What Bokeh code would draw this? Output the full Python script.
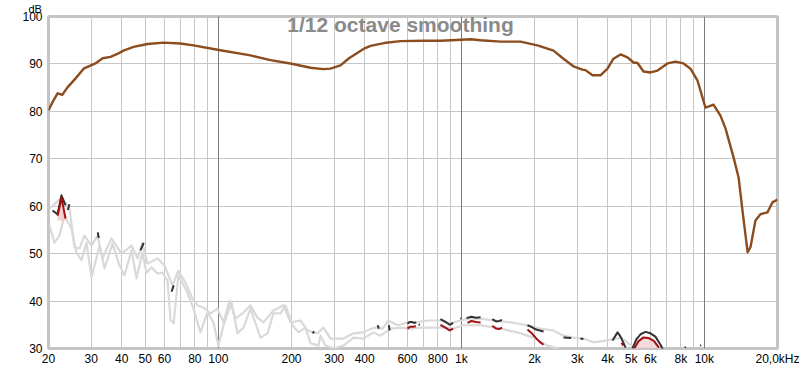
import math
from bokeh.plotting import figure
from bokeh.models import FixedTicker, Grid, Label, Title
from bokeh.embed import file_html
from bokeh.resources import INLINE

nan = float("nan")

# ---------------- data ----------------
main_freq = [20, 20.8, 21.8, 22.8, 23.9, 25.8, 27.9, 31.2, 33.4, 36.0,
             38.4, 40.7, 44.8, 51.1, 59.5, 69.8, 79.0, 99.2, 135.6, 163.9,
             198, 239.5, 270, 289.5, 318, 345, 400, 423, 480, 562,
             700, 820, 1000, 1091, 1200, 1449, 1751, 2057, 2395, 2631,
             2891, 3150, 3243, 3465, 3738, 3994, 4228, 4519, 4828, 5111,
             5309, 5619, 6003, 6415, 7053, 7607, 8208, 8770, 9374, 9826,
             10108, 10904, 11648, 12218, 13190, 13840, 14356, 15070, 15490, 16230,
             17010, 18180, 19060, 20000]
main_db = [80.2, 82.0, 83.8, 83.5, 85.0, 86.9, 89.0, 90.1, 91.2, 91.5,
           92.1, 92.8, 93.6, 94.2, 94.5, 94.3, 93.9, 93.0, 91.8, 90.8,
           90.1, 89.2, 88.9, 89.0, 89.7, 91.2, 93.3, 93.8, 94.4, 94.8,
           94.9, 94.9, 95.1, 95.2, 95.0, 94.7, 94.7, 93.9, 92.8, 91.1,
           89.5, 88.8, 88.7, 87.6, 87.6, 89.0, 91.1, 92.0, 91.4, 90.3,
           90.2, 88.4, 88.2, 88.6, 90.1, 90.5, 90.1, 89.0, 86.5, 82.9,
           80.8, 81.4, 79.1, 76.4, 70.3, 66.0, 59.0, 50.3, 51.4, 57.0,
           58.3, 58.7, 60.8, 61.4]

gray_a_freq = [20.19, 22.62, 24.41, 25.58, 26.83, 28.12, 30.06, 31.83, 33.37, 36.3,
               39.94, 43.9, 46.5, 48.7, 51.1, 56.2, 59.97, 64.8, 68.5, 73.2,
               78.3, 82.1, 86.9, 92.8, 99.2, 105, 111.2, 117.7, 125.7, 135.6,
               144.9, 153.4, 168.6, 185.4, 198.1, 217.9, 232.8, 255.9, 270.9, 289.5,
               327.3, 359.9, 395.6, 434.9, 474.2, 501.4, 546.2, 599.8, 660, 725.7,
               820.7, 902.3, 992, 1069, 1199, 1356, 1593, 1871, 2117, 2395,
               2631, 2891, 3181, 3497, 3990, 4519, 4900, 5500]
gray_a_db = [59.5, 61.8, 59.5, 51.3, 51.1, 53.8, 51.7, 53.8, 49.0, 53.2,
             50.0, 51.7, 49.0, 52.1, 47.9, 49.0, 47.5, 43.3, 46.4, 43.9,
             40.5, 39.1, 38.6, 37.4, 38.4, 35.5, 40.1, 36.3, 37.4, 39.1,
             36.5, 35.5, 38.0, 39.1, 35.5, 35.9, 33.8, 33.2, 34.4, 32.1,
             32.1, 33.2, 33.4, 34.4, 34.2, 35.9, 34.9, 35.5, 35.5, 35.9,
             35.9, 35.3, 35.9, 36.3, 36.3, 35.9, 35.5, 34.9, 34.2, 33.8,
             32.7, 32.3, 32.1, 31.3, 31.7, 32.3, 31.0, 29.0]

gray_b_freq = [20.19, 21.16, 22.18, 23.27, 24.87, 26.08, 27.34, 28.66, 30.06, 32.43,
               34.0, 36.68, 39.18, 41.1, 43.9, 46.04, 48.7, 50.6, 53.1, 56.2,
               58.9, 61.76, 63.6, 65.5, 68.5, 74.6, 79.0, 84.4, 90.2, 95.5,
               100.1, 105, 113.3, 119.9, 126.9, 135.6, 149.1, 159.3, 168.6, 180.2,
               188.9, 201.9, 213.8, 228.4, 239.4, 258.3, 263.2, 276.1, 297.9, 327.3,
               359.9, 395.6, 434.9, 464.9, 510.9, 561.9, 617.6, 679.4, 746.6, 844.7,
               928.4, 1020, 1199, 1449, 1702, 1981, 2263, 2487, 2700]
gray_b_db = [55.9, 52.3, 53.8, 58.0, 55.3, 50.2, 48.6, 52.3, 45.0, 51.7,
             46.9, 52.1, 47.5, 45.4, 50.7, 44.8, 50.2, 46.0, 47.1, 45.8,
             46.0, 44.3, 36.0, 35.3, 45.4, 41.8, 38.4, 33.4, 37.6, 35.5,
             30.6, 34.9, 39.7, 33.2, 34.4, 38.4, 32.3, 33.2, 37.4, 37.4,
             39.1, 34.9, 33.4, 34.4, 31.1, 30.6, 32.7, 30.6, 30.0, 30.6,
             32.3, 32.1, 33.4, 32.7, 34.2, 34.4, 34.2, 34.4, 34.4, 34.4,
             34.2, 34.9, 34.9, 34.2, 33.4, 32.3, 30.6, 30.0, 29.0]

dark_freq = [20.77, 21.8, 22.62, 23.5, nan, 24.0, 24.4, nan, 31.9, 32.2, nan,
             47.8, 49.3, nan, 64.2, 65.5, nan, 244, 248, nan, 452, 458, nan,
             503, 507, nan, 600, 612, 625, 640, 652, nan, 668, 674, nan,
             820, 860, 895, 925, nan, 990, 1000, nan, 1050, 1100, 1150, 1200, nan,
             1340, 1390, 1430, 1470, nan, 1871, 1950, 2030, 2180, nan,
             2631, 2830, nan, 3090, 3180, nan, 4188, 4393, 4519, 4742, nan,
             5058, 5260, 5460, 5726, 6000, 6290, 6600, 6800, nan,
             8300, 8400, nan, 9600, 9700]
dark_db = [59.1, 58.3, 62.3, 60.2, nan, 59.2, 60.4, nan, 54.5, 53.3, nan,
           50.7, 52.3, nan, 42.0, 43.3, nan, 33.2, 33.6, nan, 34.9, 34.2, nan,
           34.9, 33.8, nan, 35.2, 35.6, 35.6, 35.4, 35.5, nan, 35.1, 34.9, nan,
           36.2, 35.6, 35.0, 35.4, nan, 36.3, 36.3, nan, 36.4, 36.7, 36.5, 36.6, nan,
           36.2, 35.7, 35.8, 36.0, nan, 34.9, 34.5, 34.0, 33.6, nan,
           32.3, 32.2, nan, 32.1, 32.0, nan, 31.7, 33.4, 32.5, 30.2, nan,
           30.0, 32.0, 33.0, 33.5, 33.2, 32.5, 30.8, 29.5, nan,
           30.2, 30.3, nan, 30.6, 30.7]

red_freq = [21.8, 22.62, 23.5, nan, 600, 615, 630, 650, nan,
            820, 860, 895, 925, nan, 1060, 1100, 1150, 1200, nan,
            1340, 1390, 1430, 1470, nan, 1871, 1950, 2030, 2100, 2180, nan,
            4560, 4650, nan, 5150, 5350, 5600, 5900, 6200, 6500]
red_db = [58.0, 61.8, 57.4, nan, 34.2, 34.6, 34.6, 34.7, nan,
          35.0, 34.4, 33.8, 34.2, nan, 35.4, 35.8, 35.6, 35.5, nan,
          34.8, 34.2, 34.1, 34.4, nan, 34.0, 33.2, 32.2, 31.4, 30.8, nan,
          31.2, 30.6, nan, 30.0, 31.5, 32.3, 32.2, 31.6, 30.2]

x_ticks = [20, 30, 40, 50, 60, 80, 100, 200, 300, 400, 600, 800, 1000,
           2000, 3000, 4000, 5000, 6000, 8000, 10000, 20000]
x_tick_labels = ["20", "30", "40", "50", "60", "80", "100", "200", "300", "400",
                 "600", "800", "1k", "2k", "3k", "4k", "5k", "6k", "8k", "10k", "20,0kHz"]
grid_freqs = [30, 40, 50, 60, 70, 80, 90, 100, 200, 300, 400, 500, 600, 700, 800, 900,
              1000, 2000, 3000, 4000, 5000, 6000, 7000, 8000, 9000, 10000]
decade_freqs = [100, 1000, 10000]
y_ticks = [30, 40, 50, 60, 70, 80, 90, 100]
y_grid = [40, 50, 60, 70, 80, 90]

title_text = "1/12 octave smoothing"
unit_text = "dB"
FONT = "Liberation Sans"

# ---------------- figure ----------------
p = figure(width=800, height=368, x_axis_type="log", x_range=(20, 20000), y_range=(30, 100),
           output_backend="svg", toolbar_location=None,
           min_border_left=48, min_border_right=23, min_border_top=16, min_border_bottom=20)
p.background_fill_color = "white"
p.border_fill_color = "white"
p.outline_line_color = "#c4c4c4"
p.outline_line_width = 3

for ax in (p.xaxis[0], p.yaxis[0]):
    ax.axis_line_color = None
    ax.major_tick_line_color = None
    ax.minor_tick_line_color = None
    ax.major_tick_out = 0
    ax.major_tick_in = 0
    ax.minor_tick_out = 0
    ax.minor_tick_in = 0
    ax.major_label_text_font = FONT
    ax.major_label_text_font_size = "12px"
    ax.major_label_text_color = "#000000"

p.xaxis.ticker = FixedTicker(ticks=x_ticks)
p.xaxis.major_label_overrides = {t: l for t, l in zip(x_ticks, x_tick_labels)}
p.xaxis.major_label_standoff = 3
p.yaxis.ticker = FixedTicker(ticks=y_ticks)
p.yaxis.major_label_standoff = 6

p.xgrid.ticker = FixedTicker(ticks=grid_freqs)
p.xgrid.grid_line_color = "#c6c6c6"
p.ygrid.ticker = FixedTicker(ticks=y_grid)
p.ygrid.grid_line_color = "#c6c6c6"
p.add_layout(Grid(dimension=0, ticker=FixedTicker(ticks=decade_freqs),
                  grid_line_color="#7c7c7c"))

# "dB" unit text above the y axis
p.add_layout(Title(text=unit_text, align="left", offset=-20, standoff=0,
                   vertical_align="top",
                   text_font=FONT, text_font_size="11px", text_font_style="normal",
                   text_color="#000000"), "above")

# ---------------- series ----------------
p.line(gray_a_freq, gray_a_db, line_color="#d9d9d9", line_width=2.2, line_join="round")
p.line(gray_b_freq, gray_b_db, line_color="#d9d9d9", line_width=2.2, line_join="round")
p.varea(x=red_freq[0:3], y1=57.0, y2=red_db[0:3], fill_color="#f3c4c4", fill_alpha=0.8)
p.varea(x=red_freq[-6:], y1=30.0, y2=red_db[-6:], fill_color="#f6d2d2", fill_alpha=0.8)
p.line(dark_freq, dark_db, line_color="#333333", line_width=2, line_join="round")
p.line(red_freq, red_db, line_color="#a31010", line_width=2, line_join="round")
p.line(main_freq, main_db, line_color="#8b4c1e", line_width=2.4, line_join="round")

# ---------------- chart title inside the frame ----------------
p.add_layout(Label(x=562, y=100, y_offset=-8, text=title_text, text_align="center",
                   text_baseline="alphabetic", text_font=FONT, text_font_size="21px",
                   text_font_style="bold", text_color="#8a8a8a"))

open("out.html", "w").write(file_html(p, INLINE))
